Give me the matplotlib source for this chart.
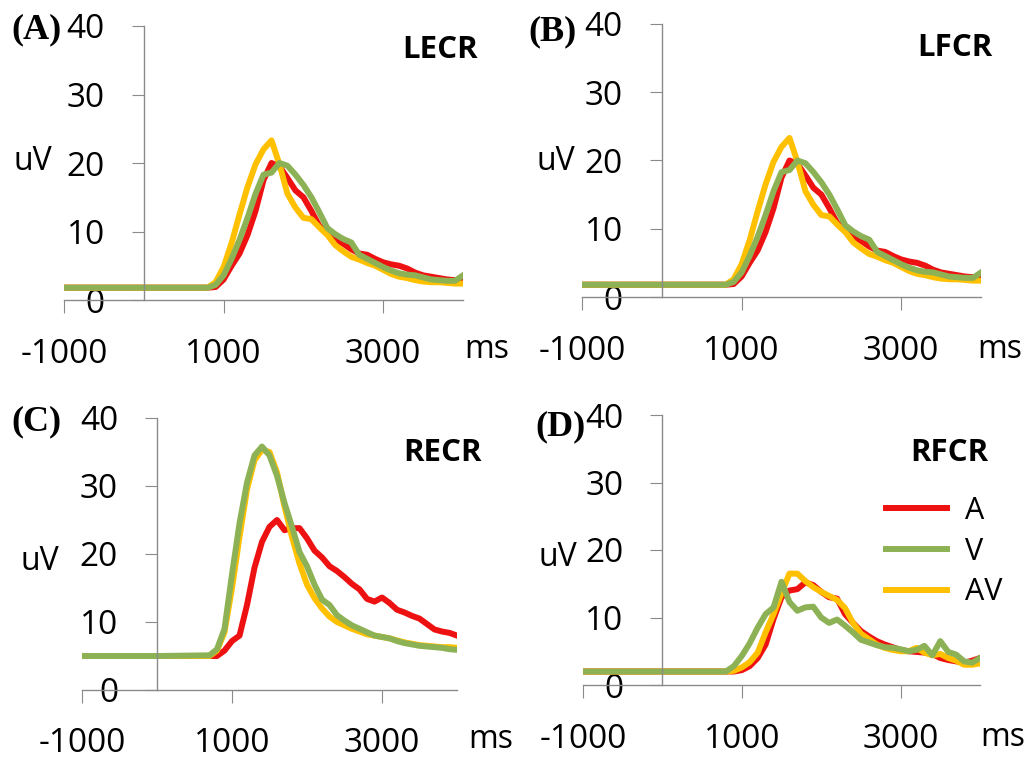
import matplotlib
matplotlib.use("Agg")
import matplotlib.pyplot as plt

plt.rcParams['font.family'] = ['Open Sans', 'DejaVu Sans']
plt.rcParams['axes.unicode_minus'] = False

# time axis (ms), shared by all series
t = [-1000, 0, 700, 800, 900, 1000, 1100, 1200, 1300, 1400, 1500, 1600, 1700,
     1800, 1900, 2000, 2100, 2200, 2300, 2400, 2500, 2600, 2700, 2800, 2900,
     3000, 3100, 3200, 3300, 3400, 3500, 3600, 3700, 3800, 3900, 4000]

# (A) LECR
lecr_a = [1.8, 1.8, 1.8, 1.8, 1.9, 3.0, 5.0, 6.8, 9.5, 13.0, 17.5, 20.0, 19.5,
          17.8, 16.0, 15.0, 13.0, 10.8, 9.8, 8.8, 8.2, 7.4, 6.8, 6.6, 6.0,
          5.5, 5.2, 5.0, 4.6, 4.0, 3.6, 3.4, 3.2, 3.0, 2.9, 2.8]
lecr_v = [1.8, 1.8, 1.8, 1.8, 2.2, 3.6, 6.0, 8.8, 12.0, 15.5, 18.3, 18.6, 20.0,
          19.6, 18.3, 16.8, 15.0, 12.8, 10.5, 9.6, 8.9, 8.4, 6.6, 6.0, 5.4,
          4.8, 4.3, 3.9, 3.7, 3.6, 3.3, 3.0, 2.9, 2.8, 2.8, 3.6]
lecr_av = [1.8, 1.8, 1.8, 1.8, 2.6, 4.8, 8.3, 12.5, 16.5, 19.8, 22.0, 23.3, 19.8,
           15.5, 13.5, 12.0, 11.8, 10.6, 9.5, 8.0, 7.1, 6.3, 5.9, 5.4, 5.0,
           4.4, 3.8, 3.4, 3.2, 2.9, 2.7, 2.6, 2.6, 2.5, 2.4, 2.4]

# (B) LFCR
lfcr_a = [1.8, 1.8, 1.8, 1.8, 1.9, 3.0, 5.0, 6.8, 9.5, 13.0, 17.5, 20.0, 19.5,
          17.8, 16.0, 15.0, 13.0, 10.8, 9.8, 8.8, 8.2, 7.4, 6.8, 6.6, 6.0,
          5.5, 5.2, 5.0, 4.6, 4.0, 3.6, 3.4, 3.2, 3.0, 2.9, 2.8]
lfcr_v = [1.8, 1.8, 1.8, 1.8, 2.2, 3.6, 6.0, 8.8, 12.0, 15.5, 18.3, 18.6, 20.0,
          19.6, 18.3, 16.8, 15.0, 12.8, 10.5, 9.6, 8.9, 8.4, 6.6, 6.0, 5.4,
          4.8, 4.3, 3.9, 3.7, 3.6, 3.3, 3.0, 2.9, 2.8, 2.8, 3.6]
lfcr_av = [1.8, 1.8, 1.8, 1.8, 2.6, 4.8, 8.3, 12.5, 16.5, 19.8, 22.0, 23.3, 19.8,
           15.5, 13.5, 12.0, 11.8, 10.6, 9.5, 8.0, 7.1, 6.3, 5.9, 5.4, 5.0,
           4.4, 3.8, 3.4, 3.2, 2.9, 2.7, 2.6, 2.6, 2.5, 2.4, 2.4]

# (C) RECR
recr_a = [5.0, 5.0, 5.0, 5.0, 5.8, 7.2, 8.0, 12.5, 18.0, 21.8, 24.0, 25.0, 23.5,
          23.8, 23.8, 22.3, 20.5, 19.5, 18.2, 17.5, 16.6, 15.6, 14.8, 13.4, 13.0,
          13.6, 12.8, 11.8, 11.4, 10.9, 10.5, 9.7, 8.9, 8.6, 8.4, 8.0]
recr_v = [5.0, 5.0, 5.1, 6.0, 9.0, 17.0, 24.5, 30.5, 34.5, 35.8, 34.5, 31.5, 27.5,
          24.0, 20.3, 18.2, 15.5, 13.3, 12.5, 11.0, 10.2, 9.5, 9.0, 8.5, 8.0,
          7.8, 7.6, 7.2, 6.9, 6.7, 6.5, 6.4, 6.3, 6.2, 6.0, 5.9]
recr_av = [5.0, 5.0, 5.0, 5.8, 8.5, 15.0, 22.5, 29.5, 33.8, 35.3, 35.0, 32.0, 27.0,
           22.5, 18.6, 15.5, 13.5, 12.0, 10.8, 10.0, 9.5, 9.0, 8.6, 8.2, 8.0,
           7.8, 7.6, 7.3, 7.0, 6.8, 6.6, 6.5, 6.4, 6.3, 6.3, 6.2]

# (D) RFCR
rfcr_a = [2.0, 2.0, 2.0, 2.0, 2.0, 2.2, 2.8, 4.0, 6.0, 9.8, 13.0, 14.0, 14.2,
          15.2, 14.8, 13.8, 13.0, 12.8, 10.5, 9.2, 8.0, 7.2, 6.5, 6.0, 5.6,
          5.2, 5.0, 4.9, 4.8, 4.6, 4.0, 3.7, 3.5, 3.3, 3.6, 4.0]
rfcr_v = [2.0, 2.0, 2.0, 2.0, 2.8, 4.3, 6.2, 8.5, 10.5, 11.5, 15.3, 12.3, 11.0,
          11.5, 11.6, 10.0, 9.2, 9.7, 8.8, 7.8, 6.7, 6.3, 5.9, 5.6, 5.5,
          5.3, 5.0, 5.2, 5.8, 4.4, 6.5, 4.9, 4.5, 3.5, 3.3, 4.0]
rfcr_av = [2.0, 2.0, 2.0, 2.0, 2.1, 2.6, 3.4, 4.8, 7.8, 10.5, 13.6, 16.5, 16.5,
           15.4, 14.5, 13.8, 13.2, 12.6, 11.4, 9.2, 7.6, 6.8, 6.0, 5.5, 5.2,
           5.0, 5.0, 5.5, 4.8, 4.4, 4.6, 4.0, 3.6, 3.0, 3.0, 3.2]

labels = ['A', 'V', 'AV']
colors = ['#EE1111', '#8DB255', '#FFC000']
xticks = [-1000, 1000, 3000]
yticks = [0, 10, 20, 30, 40]

W, H = 1033, 763
fig = plt.figure(figsize=(W / 100, H / 100), dpi=100)


def panel(x0, x1, ytop, ybot, a, v, av, name, letter, pos):
    ax = fig.add_axes([x0 / W, 1 - ybot / H, (x1 - x0) / W, (ybot - ytop) / H])
    ax.plot(t, a, color=colors[0], lw=4.3, label=labels[0])
    ax.plot(t, av, color=colors[2], lw=4.3, label=labels[2])
    ax.plot(t, v, color=colors[1], lw=4.3, label=labels[1])
    ax.set_xlim(-1000, 4000)
    ax.set_ylim(0, 40)
    ax.set_xticks(xticks)
    ax.set_yticks(yticks)
    for s in ['top', 'right']:
        ax.spines[s].set_visible(False)
    ax.spines['left'].set_position(('data', 0))
    ax.spines['bottom'].set_position(('data', 0))
    for s in ['left', 'bottom']:
        ax.spines[s].set_color('#8a8a8a')
        ax.spines[s].set_linewidth(1)
    ax.tick_params(axis='y', length=9, color='#8a8a8a', pad=19, labelsize=24)
    ax.tick_params(axis='x', length=9, color='#8a8a8a', pad=18, labelsize=24)
    ax.patch.set_visible(False)
    # panel texts, placed in pixel positions
    lx, ly, tx, ty, ux, uy, mx, my = pos
    fig.text(lx / W, 1 - ly / H, letter, family='Liberation Serif',
             weight='bold', fontsize=26, ha='left', va='center')
    fig.text(tx / W, 1 - ty / H, name, weight='bold', fontsize=22.5,
             ha='center', va='center')
    fig.text(ux / W, 1 - uy / H, 'uV', fontsize=23, ha='center', va='center')
    fig.text(mx / W, 1 - my / H, 'ms', fontsize=23, ha='center', va='center')
    return ax


panel(64, 463, 26, 300, lecr_a, lecr_v, lecr_av, 'LECR', '(A)',
      (11, 30, 440, 50, 33, 161, 487, 350))
panel(582, 981, 24, 297, lfcr_a, lfcr_v, lfcr_av, 'LFCR', '(B)',
      (528, 32, 955, 48, 556, 161, 1000, 350))
panel(82, 457, 418, 690, recr_a, recr_v, recr_av, 'RECR', '(C)',
      (11, 422, 442, 453, 40, 561, 491, 740))
axd = panel(583, 980, 415, 685, rfcr_a, rfcr_v, rfcr_av, 'RFCR', '(D)',
            (535, 427, 949, 453, 558, 558, 1003, 737))

h, l = axd.get_legend_handles_labels()
order = [0, 2, 1]
axd.legend([h[i] for i in order], [l[i] for i in order], loc='upper left',
           bbox_to_anchor=((886 - 583) / (980 - 583), (685 - 496) / (685 - 415)),
           frameon=False, fontsize=22, handlelength=2.0, handletextpad=0.6,
           labelspacing=0.35, borderaxespad=0, borderpad=0)

fig.savefig('out.png', dpi=100, facecolor='white')
